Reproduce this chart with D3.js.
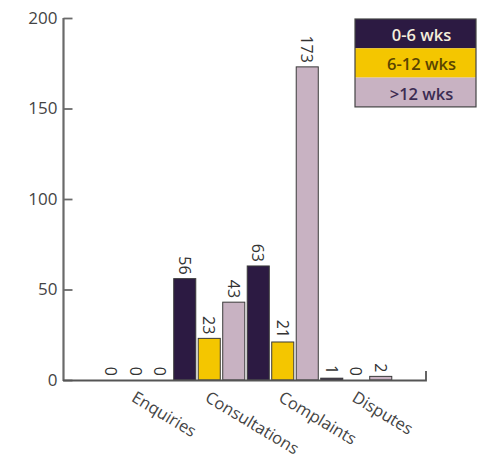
<!DOCTYPE html>
<html><head><meta charset="utf-8">
<script src="https://cdn.jsdelivr.net/npm/d3@7"></script>
<style>body{margin:0;background:#fff;}svg{display:block;font-family:"Open Sans",sans-serif;}</style>
</head><body><svg id="c" width="478" height="461"></svg>
<script>
const categories = ["Enquiries","Consultations","Complaints","Disputes"];
const seriesNames = ["0-6 wks","6-12 wks",">12 wks"];
const wks0to6 = [0,56,63,1];
const wks6to12 = [0,23,21,0];
const wksOver12 = [0,43,173,2];
const yTicks = [0,50,100,150,200];
const colors = ["#2c1a42","#f4c600","#c8b2c2"];
const legendText = ["#f4eedc","#5a4400","#3c2c52"];
const seriesValues = [wks0to6, wks6to12, wksOver12];

const svg = d3.select("#c");
const y = d3.scaleLinear().domain([0,200]).range([380,18]);
const x0 = d3.scaleBand().domain(categories).range([99,393]).paddingInner(0);
const x1 = d3.scaleBand().domain(d3.range(3)).range([0,x0.bandwidth()]).paddingInner(0.1).paddingOuter(0.05);

// bars
const groups = svg.selectAll("g.grp").data(categories).join("g")
  .attr("transform", d=>`translate(${x0(d)},0)`);
groups.each(function(cat, ci){
  const g = d3.select(this);
  const data = seriesValues.map((s,si)=>({si, v:s[ci]}));
  g.selectAll("rect").data(data).join("rect")
    .attr("x", d=>x1(d.si)).attr("width", x1.bandwidth())
    .attr("y", d=>y(d.v)).attr("height", d=>y(0)-y(d.v))
    .attr("fill", d=>colors[d.si]).attr("stroke","#3a3a3a").attr("stroke-width",1);
  g.selectAll("text").data(data).join("text")
    .attr("transform", d=>`translate(${x1(d.si)+x1.bandwidth()/2},${y(d.v)-4}) rotate(90)`)
    .attr("text-anchor","end").attr("dominant-baseline","central")
    .attr("font-size",16).attr("fill","#333").text(d=>d.v);
});

// y axis
const yAxis = d3.axisLeft(y).tickValues(yTicks).tickSize(-9).tickPadding(16);
const ya = svg.append("g").attr("transform","translate(63.5,0)").call(yAxis);
ya.select(".domain").attr("stroke","#6a6a6a").attr("stroke-width",2.2).attr("d","M0,18V381");
ya.selectAll(".tick line").attr("stroke","#6a6a6a").attr("stroke-width",1.8);
ya.selectAll(".tick text").attr("font-size",17).attr("fill","#444").attr("font-family","'Open Sans',sans-serif").attr("x",-6);

// x baseline
svg.append("path").attr("d",`M63,${y(0)+0.5}H426V${y(0)-9}`).attr("fill","none").attr("stroke","#555").attr("stroke-width",1.8);

// category labels
svg.selectAll("text.cat").data(categories).join("text").attr("class","cat")
  .attr("transform", d=>`translate(${x0(d)+x0.bandwidth()/2-2},${y(0)+15}) rotate(31)`)
  .attr("text-anchor","start").attr("dominant-baseline","central")
  .attr("font-size",16.5).attr("fill","#444").text(d=>d);

// legend
const lg = svg.append("g").attr("transform","translate(355,19)");
const rowH = 29.3, lw = 121;
seriesNames.forEach((n,i)=>{
  lg.append("rect").attr("x",0).attr("y",i*rowH).attr("width",lw).attr("height",rowH).attr("fill",colors[i]);
  lg.append("text").attr("x",lw/2+6).attr("y",i*rowH+rowH/2+1).attr("text-anchor","middle")
    .attr("dominant-baseline","central").attr("font-size",16.5).attr("font-weight",600)
    .attr("fill",legendText[i]).text(n);
});
lg.append("rect").attr("x",0).attr("y",0).attr("width",lw).attr("height",rowH*3).attr("fill","none").attr("stroke","#444").attr("stroke-width",1.2);
</script></body></html>
